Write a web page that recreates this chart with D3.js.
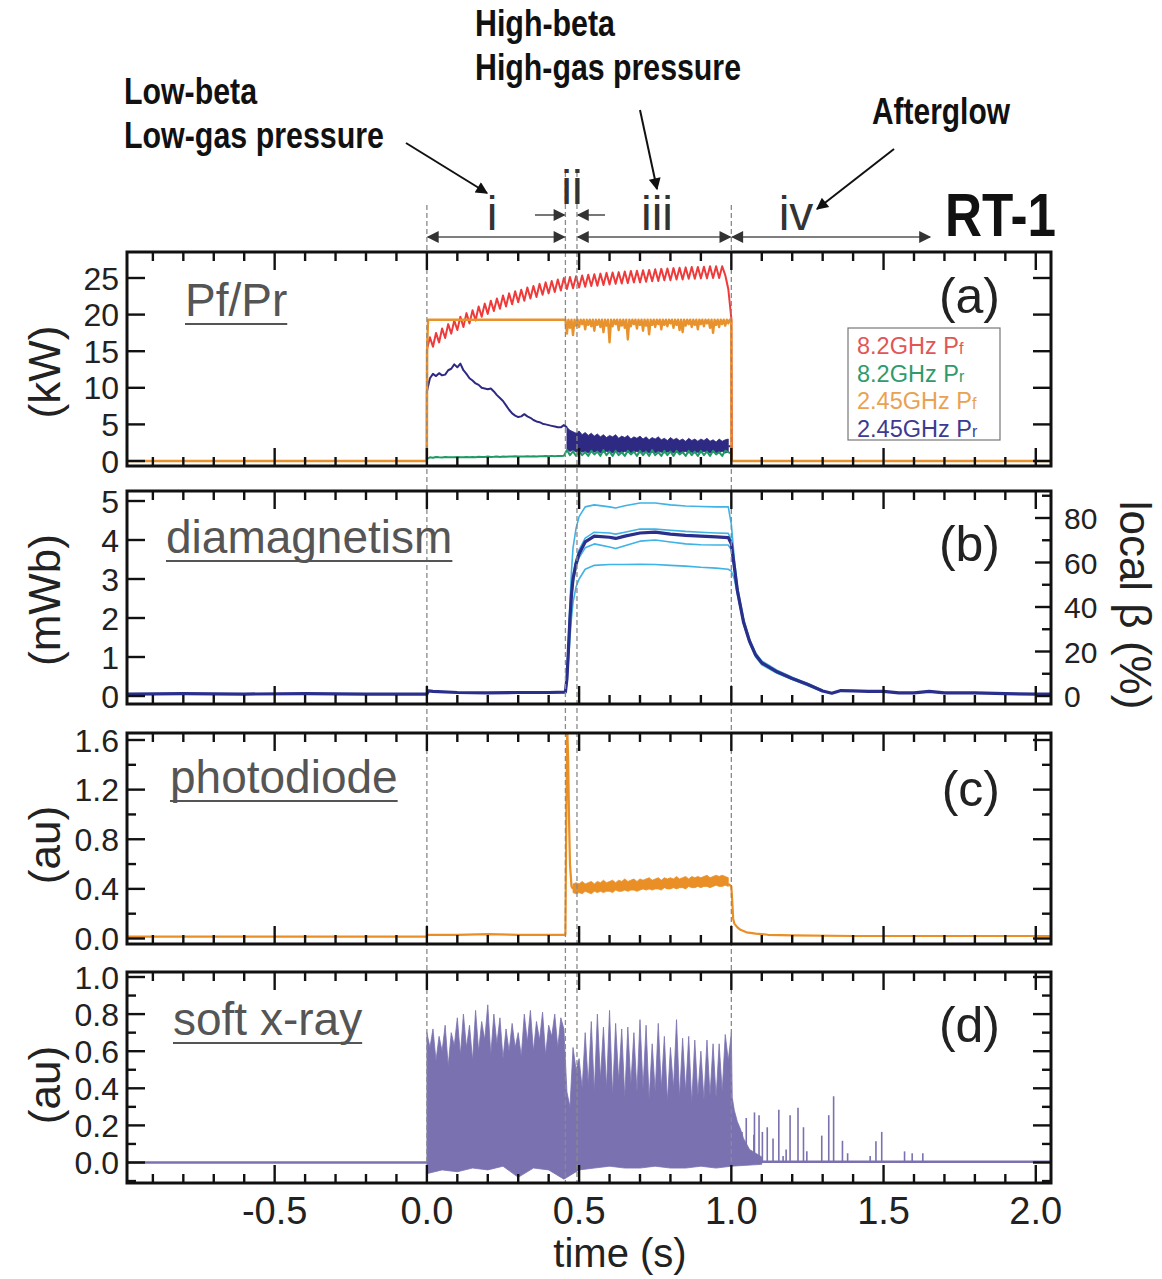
<!DOCTYPE html>
<html><head><meta charset="utf-8">
<script src="https://cdn.jsdelivr.net/npm/d3@7/dist/d3.min.js"></script>
<style>
body{margin:0;background:#fff}
svg{display:block}
text{font-family:"Liberation Sans",Arial,Helvetica,sans-serif}
</style>
</head><body>
<svg id="c" width="1162" height="1279"></svg>
<script>
// ---------------- DATA ----------------
const xMajorTicks = [-0.5, 0, 0.5, 1.0, 1.5, 2.0];
const xTickLabels = ["-0.5", "0.0", "0.5", "1.0", "1.5", "2.0"];
const phaseLines = [0, 0.455, 0.493, 1.0];

// panel (a) samples every 0.01 s from t = 0.00
const pf82 = [15.2,16.9,15.6,17.5,16.2,18.1,16.8,18.7,17.4,19.2,
  17.9,19.7,18.3,20.2,18.8,20.6,19.2,21.1,19.7,21.5,
  20.1,21.9,20.5,22.2,20.8,22.6,21.1,22.9,21.4,23.2,
  21.7,23.4,21.9,23.7,22.2,23.9,22.4,24.2,22.7,24.4,
  22.9,24.6,23.1,24.8,23.3,25.0,23.5,25.15,23.6,25.25,
  23.7,25.35,23.8,25.45,23.9,25.5,23.95,25.6,24.05,25.7,
  24.1,25.75,24.2,25.8,24.25,25.9,24.3,25.95,24.4,26.0,
  24.4,26.05,24.5,26.1,24.55,26.2,24.6,26.25,24.7,26.3,
  24.7,26.35,24.8,26.4,24.8,26.45,24.9,26.5,24.9,26.5,
  24.95,26.55,24.95,26.6,25.0,26.6,25.0,26.6,25.4,23.5,
  19.5];
const pr82 = [0.3,0.5,0.45,0.55,0.5,0.48,0.55,0.5,0.52,0.5,
  0.55,0.5,0.52,0.56,0.5,0.55,0.52,0.58,0.54,0.56,
  0.6,0.55,0.58,0.62,0.56,0.6,0.58,0.62,0.6,0.64,
  0.6,0.63,0.62,0.66,0.6,0.65,0.62,0.66,0.64,0.68,
  0.65,0.7,0.66,0.7,0.68,0.72,1.5,0.8,1.3,0.7,
  1.4,0.8,1.2,0.7,1.4,0.9,1.3,0.7,1.5,0.8,
  1.3,0.7,1.4,0.8,1.2,0.7,1.4,0.9,1.3,0.7,
  1.4,0.8,1.3,0.7,1.5,0.8,1.2,0.7,1.4,0.8,
  1.3,0.7,1.4,0.9,1.2,0.7,1.4,0.8,1.3,0.7,
  1.4,0.8,1.3,0.7,1.4,0.9,1.2,0.7,1.4,1.2,
  1.0];
const pf245Level = 19.3;
// dips of 2.45GHz Pf, t = 0.46 ... 0.99
const pf245Dips = [17.4,18.2,17.2,18.5,
  18.3,18.7,18.0,18.6,18.4,17.8,18.6,18.3,17.6,18.5,
  16.2,18.4,18.7,17.9,18.5,18.2,16.6,18.4,18.7,18.1,
  18.6,17.8,18.5,17.3,18.6,18.3,18.7,18.0,18.6,18.4,
  18.8,18.2,18.6,17.9,17.6,18.5,18.7,18.3,18.6,18.0,
  18.7,18.4,18.8,18.2,17.5,18.6,18.3,18.7,18.5,18.8];
// 2.45GHz Pr, t = 0.00 ... 0.45
const pr245Early = [9.5,11.3,11.9,11.6,12.0,11.7,11.8,12.4,12.6,13.2,
  12.8,13.3,12.4,11.9,11.3,11.0,10.6,10.4,10.0,9.9,
  9.8,9.9,9.5,9.0,8.6,8.2,7.6,7.0,6.5,6.2,
  6.0,6.1,6.4,6.1,5.9,5.6,5.4,5.3,5.1,5.0,
  4.9,4.8,4.7,4.6,4.6,4.9];
// 2.45GHz Pr band, t = 0.46 ... 0.99
const pr245Hi = [4.6,4.2,4.0,3.8,
  4.1,3.6,3.9,3.5,3.8,3.4,3.7,3.3,3.6,3.2,
  3.5,3.3,3.6,3.1,3.4,3.2,3.5,3.0,3.3,3.1,
  3.4,3.0,3.3,2.9,3.2,3.0,3.3,2.9,3.1,2.8,
  3.2,2.9,3.1,2.8,3.0,2.7,3.1,2.8,3.0,2.7,
  3.0,2.8,3.1,2.7,2.9,2.6,3.0,2.7,2.9,3.0];
const pr245Lo = [1.6,1.3,1.5,1.2,
  1.4,1.2,1.3,1.1,1.3,1.2,1.4,1.1,1.2,1.3,
  1.2,1.1,1.3,1.2,1.1,1.3,1.2,1.1,1.2,1.3,
  1.1,1.2,1.3,1.1,1.2,1.1,1.3,1.2,1.1,1.2,
  1.3,1.1,1.2,1.1,1.2,1.3,1.1,1.2,1.1,1.2,
  1.1,1.3,1.2,1.1,1.2,1.1,1.2,1.3,1.1,1.2];

// panel (b) diamagnetism (mWb)
const tDia = [-0.985,-0.8,-0.6,-0.4,-0.2,0,0.005,0.02,0.1,0.2,0.3,0.4,0.455,0.46,0.465,0.47,0.475,0.48,0.49,0.5,
  0.52,0.55,0.6,0.62,0.65,0.7,0.75,0.8,0.85,0.9,0.95,0.99,1.0,1.01,1.02,1.04,1.06,1.08,1.1,1.15,
  1.2,1.25,1.3,1.33,1.36,1.4,1.45,1.5,1.55,1.6,1.65,1.7,1.8,1.9,2.0,2.05];
const diaMain = [0.05,0.06,0.05,0.06,0.05,0.05,0.13,0.12,0.09,0.08,0.09,0.09,0.10,0.45,1.2,2.0,2.6,3.0,3.4,3.65,
  3.95,4.1,4.07,4.04,4.1,4.18,4.2,4.15,4.12,4.1,4.08,4.06,3.9,3.3,2.7,1.9,1.4,1.05,0.85,0.62,
  0.45,0.3,0.13,0.07,0.14,0.13,0.12,0.12,0.08,0.08,0.12,0.08,0.08,0.06,0.05,0.05];
const tDiaCh = [0.455,0.46,0.465,0.47,0.475,0.48,0.49,0.5,0.52,0.55,0.6,0.62,0.65,0.7,0.75,0.8,0.85,0.9,0.95,0.99,
  1.0,1.01,1.02,1.04,1.06,1.08,1.1,1.15,1.2,1.25,1.3];
const diaCh1 = [0.10,0.45,1.4,2.4,3.2,3.8,4.3,4.6,4.85,4.9,4.85,4.82,4.88,4.95,4.95,4.9,4.87,4.86,4.85,4.85,
  4.4,3.5,2.8,1.98,1.45,1.1,0.9,0.66,0.48,0.32,0.15];
const diaCh2 = [0.10,0.45,1.25,2.1,2.7,3.1,3.5,3.75,4.05,4.2,4.18,4.15,4.2,4.28,4.28,4.25,4.22,4.2,4.18,4.17,
  4.0,3.35,2.72,1.92,1.42,1.07,0.87,0.64,0.46,0.31,0.14];
const diaCh3 = [0.10,0.42,1.15,1.9,2.5,2.9,3.3,3.55,3.8,3.9,3.82,3.78,3.85,3.97,4.0,3.95,3.9,3.88,3.87,3.87,
  3.75,3.25,2.68,1.88,1.38,1.03,0.83,0.6,0.43,0.28,0.12];
const diaCh4 = [0.10,0.35,0.9,1.5,2.0,2.4,2.8,3.0,3.25,3.35,3.37,3.37,3.37,3.38,3.37,3.35,3.33,3.3,3.28,3.25,
  3.2,3.0,2.6,1.85,1.35,1.0,0.8,0.58,0.42,0.27,0.11];

// panel (c) photodiode (au)
const tPdA = [-0.985,0,0.002,0.1,0.2,0.3,0.4,0.455,0.458,0.461,0.464,0.467,0.47,0.475,0.48];
const pdA  = [0.015,0.015,0.03,0.03,0.035,0.03,0.03,0.03,1.0,1.7,1.45,0.95,0.6,0.42,0.4];
// band t = 0.48 ... 0.99
const pdHi = [0.44,0.45,
  0.44,0.46,0.44,0.45,0.46,0.44,0.46,0.45,0.47,0.45,
  0.46,0.47,0.45,0.47,0.46,0.48,0.46,0.47,0.48,0.46,
  0.48,0.47,0.48,0.49,0.47,0.48,0.49,0.47,0.49,0.48,
  0.49,0.48,0.50,0.48,0.49,0.50,0.48,0.50,0.49,0.50,
  0.49,0.50,0.51,0.49,0.50,0.51,0.50,0.51,0.50,0.49];
const pdLo = [0.37,0.36,
  0.37,0.36,0.38,0.37,0.36,0.38,0.37,0.38,0.37,0.38,
  0.38,0.37,0.39,0.38,0.38,0.39,0.38,0.39,0.39,0.38,
  0.39,0.40,0.39,0.40,0.39,0.40,0.40,0.39,0.41,0.40,
  0.40,0.41,0.40,0.41,0.41,0.40,0.42,0.41,0.41,0.42,
  0.41,0.42,0.42,0.41,0.42,0.43,0.42,0.42,0.43,0.42];
const tPdB = [0.99,1.0,1.003,1.006,1.01,1.02,1.03,1.05,1.08,1.12,1.2,1.4,1.7,2.05];
const pdB  = [0.44,0.42,0.3,0.16,0.12,0.09,0.07,0.05,0.04,0.03,0.025,0.02,0.02,0.02];

// panel (d) soft x-ray (au), upper envelope every 0.01 s from t = 0
const sxHi = [0.70,0.62,0.72,0.55,0.68,0.60,0.74,0.52,0.70,0.63,
  0.78,0.58,0.80,0.62,0.74,0.55,0.82,0.60,0.76,0.66,
  0.85,0.58,0.80,0.64,0.78,0.56,0.72,0.60,0.75,0.62,
  0.70,0.57,0.80,0.65,0.82,0.60,0.76,0.66,0.81,0.58,
  0.74,0.68,0.80,0.62,0.78,0.72,0.38,0.30,0.62,0.50,
  0.56,0.40,0.70,0.42,0.76,0.38,0.80,0.45,0.73,0.40,
  0.82,0.36,0.75,0.44,0.72,0.35,0.73,0.42,0.70,0.38,
  0.77,0.40,0.74,0.34,0.64,0.38,0.75,0.40,0.68,0.33,
  0.62,0.40,0.77,0.35,0.67,0.38,0.68,0.32,0.66,0.36,
  0.60,0.34,0.66,0.36,0.64,0.35,0.64,0.38,0.69,0.55,
  0.70];
// lower envelope every 0.05 s from t = 0
const sxLo = [-0.06,-0.04,-0.05,-0.03,-0.04,-0.02,-0.08,-0.03,-0.04,-0.09,-0.04,
  -0.03,-0.02,-0.03,-0.03,-0.02,-0.03,-0.03,-0.02,-0.03,-0.02];
const tSxDecay = [1.003,1.01,1.02,1.03,1.04,1.05,1.06,1.08,1.1];
const sxDecay  = [0.35,0.28,0.22,0.18,0.13,0.10,0.07,0.05,0.03];
const tSxSpike = [1.035,1.049,1.074,1.076,1.091,1.102,1.118,1.137,1.156,1.17,1.18,1.193,1.219,1.237,1.248,
  1.297,1.32,1.336,1.365,1.382,1.456,1.475,1.494,1.569,1.594,1.629];
const sxSpike  = [0.165,0.24,0.15,0.27,0.255,0.165,0.19,0.13,0.285,0.035,0.07,0.255,0.295,0.19,0.06,
  0.145,0.255,0.357,0.117,0.05,0.035,0.115,0.165,0.06,0.05,0.05];

const legendLabels = [["8.2GHz P","f"],["8.2GHz P","r"],["2.45GHz P","f"],["2.45GHz P","r"]];
const COL = {red:"#ee3a3a", green:"#1f9a62", orange:"#e8922e", navy:"#2e2a84",
  cyan:"#3fb2e6", dia:"#2b2f8c", pd:"#ea8f26", sx:"#7a72b0"};
const legendColors = ["#e25555","#2f9a6c","#e9a252","#3c3a92"];

// ---------------- DRAW ----------------
const svg = d3.select("#c");
const x = d3.scaleLinear().domain([-0.985, 2.05]).range([127, 1051]);
const P = {
  a:{t:252,b:466,y:d3.scaleLinear().domain([0,25]).range([461,278])},
  b:{t:491,b:704,y:d3.scaleLinear().domain([0,5]).range([696,501])},
  c:{t:733,b:944,y:d3.scaleLinear().domain([0,1.6]).range([938.5,740])},
  d:{t:972,b:1183,y:d3.scaleLinear().domain([0,1]).range([1162.5,977])}
};
const beta = d3.scaleLinear().domain([0,80]).range([696,518]);
const X0 = x.range()[0], X1 = x.range()[1];

const defs = svg.append("defs");
Object.entries(P).forEach(([k,p])=>{
  defs.append("clipPath").attr("id","clip"+k).append("rect")
    .attr("x",X0).attr("y",p.t).attr("width",X1-X0).attr("height",p.b-p.t);
});
function mk(id,color){
  defs.append("marker").attr("id",id).attr("viewBox","0 0 10 10").attr("refX",9).attr("refY",5)
    .attr("markerWidth",15).attr("markerHeight",12).attr("markerUnits","userSpaceOnUse")
    .attr("orient","auto-start-reverse")
    .append("path").attr("d","M0,0 L10,5 L0,10 z").attr("fill",color);
}
mk("ahg","#333"); mk("ahb","#111");

const samp = (t0, vals, step=0.01) => vals.map((v,i)=>[+(t0+i*step).toFixed(4), v]);
const zip = (ts, vs) => ts.map((t,i)=>[t, vs[i]]);

function plotLine(g, p, pts, color, w){
  g.append("path").attr("d", d3.line().x(d=>x(d[0])).y(d=>p.y(d[1]))(pts))
    .attr("fill","none").attr("stroke",color).attr("stroke-width",w).attr("stroke-linejoin","round");
}
function plotPoly(g, p, pts, color){
  g.append("path").attr("d", d3.line().x(d=>x(d[0])).y(d=>p.y(d[1]))(pts)+"Z")
    .attr("fill",color).attr("stroke",color).attr("stroke-width",0.8);
}

const gA = svg.append("g").attr("clip-path","url(#clipa)");
const gB = svg.append("g").attr("clip-path","url(#clipb)");
const gC = svg.append("g").attr("clip-path","url(#clipc)");
const gD = svg.append("g").attr("clip-path","url(#clipd)");

// ---- panel a ----
{
  const p = P.a;
  const navyBandPts = samp(0.46, pr245Hi).concat(samp(0.46, pr245Lo).reverse());
  plotPoly(gA, p, navyBandPts, COL.navy);
  plotLine(gA, p, [[-0.985,0],[0,0]].concat(samp(0, pr245Early), samp(0.46, pr245Hi).slice(0,1)), COL.navy, 2);
  plotLine(gA, p, [[0.99,2.0],[1.0,2.0],[1.0,0]], COL.navy, 2);
  plotLine(gA, p, [[-0.985,0],[0,0]].concat(samp(0, pf82), [[1.002,0],[2.05,0]]), COL.red, 2);
  plotLine(gA, p, [[-0.985,0],[0,0]].concat(samp(0, pr82), [[1.001,0],[2.05,0]]), COL.green, 2);
  const orPts = [[-0.985,0],[0,0],[0.001,16],[0.004,pf245Level],[0.455,pf245Level]];
  samp(0.46, pf245Dips).forEach(d=>{ orPts.push([d[0]-0.005, pf245Level]); orPts.push([d[0], d[1]]); });
  orPts.push([0.995,pf245Level],[1.0,pf245Level],[1.0,0],[2.05,0]);
  plotLine(gA, p, orPts, COL.orange, 2.4);
}
// ---- panel b ----
{
  const p = P.b;
  [diaCh1,diaCh2,diaCh3,diaCh4].forEach(v=> plotLine(gB, p, zip(tDiaCh, v), COL.cyan, 1.6));
  plotLine(gB, p, zip(tDia, diaMain), COL.dia, 3.2);
}
// ---- panel c ----
{
  const p = P.c;
  plotPoly(gC, p, samp(0.48, pdHi).concat(samp(0.48, pdLo).reverse()), COL.pd);
  plotLine(gC, p, zip(tPdA, pdA), COL.pd, 2.2);
  plotLine(gC, p, zip(tPdB, pdB), COL.pd, 2.2);
}
// ---- panel d ----
{
  const p = P.d;
  const hi = samp(0, sxHi).concat(zip(tSxDecay, sxDecay));
  const lo = samp(0, sxLo, 0.05).concat([[1.1,-0.01]]);
  plotPoly(gD, p, hi.concat(lo.reverse()), COL.sx);
  plotLine(gD, p, [[-0.985,0],[0,0]], COL.sx, 2.4);
  plotLine(gD, p, [[1.05,0.004],[2.05,0.004]], COL.sx, 2.4);
  zip(tSxSpike, sxSpike).forEach(d=>{
    gD.append("line").attr("x1",x(d[0])).attr("x2",x(d[0])).attr("y1",p.y(0)).attr("y2",p.y(d[1]))
      .attr("stroke",COL.sx).attr("stroke-width",1.6);
  });
}

// ---- phase dashed lines ----
phaseLines.forEach((t,i)=>{
  svg.append("line").attr("x1",x(t)).attr("x2",x(t)).attr("y1",(i==1||i==2)?172:205).attr("y2",1183)
    .attr("stroke","#8a8a8a").attr("stroke-width",1.3).attr("stroke-dasharray","5,3");
});

// ---- frames and ticks ----
const xMinor = d3.range(-9, 21).map(i=>i/10).filter(v=>!xMajorTicks.some(m=>Math.abs(m-v)<1e-6));
function frame(p){
  const g = svg.append("g").attr("stroke","#111").attr("stroke-width",2.4);
  xMajorTicks.forEach(t=>{
    g.append("line").attr("x1",x(t)).attr("x2",x(t)).attr("y1",p.b).attr("y2",p.b-18);
    g.append("line").attr("x1",x(t)).attr("x2",x(t)).attr("y1",p.t).attr("y2",p.t+18);
  });
  xMinor.forEach(t=>{
    g.append("line").attr("x1",x(t)).attr("x2",x(t)).attr("y1",p.b).attr("y2",p.b-9);
    g.append("line").attr("x1",x(t)).attr("x2",x(t)).attr("y1",p.t).attr("y2",p.t+9);
  });
  g.append("rect").attr("x",X0).attr("y",p.t).attr("width",X1-X0).attr("height",p.b-p.t)
    .attr("fill","none").attr("stroke-width",3);
  return g;
}
function yTicks(g, sc, vals, len, left=true, right=true){
  vals.forEach(v=>{
    if(left) g.append("line").attr("x1",X0).attr("x2",X0+len).attr("y1",sc(v)).attr("y2",sc(v));
    if(right) g.append("line").attr("x1",X1).attr("x2",X1-len).attr("y1",sc(v)).attr("y2",sc(v));
  });
}
function yLabels(sc, vals, labels){
  vals.forEach((v,i)=>{
    svg.append("text").attr("x",119).attr("y",sc(v)+11.5).attr("text-anchor","end")
      .attr("font-size",32).attr("fill","#222").text(labels[i]);
  });
}
const aTicks=[0,5,10,15,20,25];
const gfa = frame(P.a); yTicks(gfa, P.a.y, aTicks, 18);
yLabels(P.a.y, aTicks, ["0","5","10","15","20","25"]);

const bTicks=[0,1,2,3,4,5];
const gfb = frame(P.b); yTicks(gfb, P.b.y, bTicks, 18, true, false);
yTicks(gfb, beta, [0,20,40,60,80], 16, false, true);
yTicks(gfb, beta, [10,30,50,70,90], 9, false, true);
yLabels(P.b.y, bTicks, ["0","1","2","3","4","5"]);
[0,20,40,60,80].forEach(v=>{
  svg.append("text").attr("x",1064).attr("y",beta(v)+11).attr("font-size",30).attr("fill","#222").text(v);
});

const cMaj=[0,0.4,0.8,1.2,1.6], cMin=[0.2,0.6,1.0,1.4];
const gfc = frame(P.c); yTicks(gfc, P.c.y, cMaj, 18); yTicks(gfc, P.c.y, cMin, 9);
yLabels(P.c.y, cMaj, ["0.0","0.4","0.8","1.2","1.6"]);

const dMaj=[0,0.2,0.4,0.6,0.8,1.0], dMin=[-0.1,0.1,0.3,0.5,0.7,0.9];
const gfd = frame(P.d); yTicks(gfd, P.d.y, dMaj, 18); yTicks(gfd, P.d.y, dMin, 9);
yLabels(P.d.y, dMaj, ["0.0","0.2","0.4","0.6","0.8","1.0"]);

// x tick labels
xMajorTicks.forEach((t,i)=>{
  svg.append("text").attr("x",x(t)).attr("y",1224).attr("text-anchor","middle")
    .attr("font-size",38).attr("fill","#222").text(xTickLabels[i]);
});
svg.append("text").attr("x",620).attr("y",1267).attr("text-anchor","middle")
  .attr("font-size",40).attr("fill","#222").text("time (s)");

// y titles
function vtitle(cx, cy, txt, rot){
  svg.append("text").attr("transform",`translate(${cx},${cy}) rotate(${rot})`)
    .attr("text-anchor","middle").attr("font-size",44).attr("fill","#222").text(txt);
}
vtitle(60, 372, "(kW)", -90);
vtitle(60, 600, "(mWb)", -90);
vtitle(60, 845, "(au)", -90);
vtitle(60, 1085, "(au)", -90);
vtitle(1120, 605, "local β (%)", 90);

// underlined panel names
function uname(xp, yb, txt){
  const t = svg.append("text").attr("x",xp).attr("y",yb).attr("font-size",46).attr("fill","#555").text(txt);
  const w = t.node().getComputedTextLength();
  svg.append("line").attr("x1",xp).attr("x2",xp+w).attr("y1",yb+8).attr("y2",yb+8)
    .attr("stroke","#555").attr("stroke-width",2);
}
uname(185, 316, "Pf/Pr");
uname(166, 553, "diamagnetism");
uname(170, 793, "photodiode");
uname(173, 1035, "soft x-ray");

// panel letters
[["(a)",313],["(b)",561],["(c)",806],["(d)",1042]].forEach(d=>{
  svg.append("text").attr("x",1000).attr("y",d[1]).attr("text-anchor","end")
    .attr("font-size",50).attr("fill","#222").text(d[0]);
});

// legend
svg.append("rect").attr("x",848).attr("y",328).attr("width",152).attr("height",112)
  .attr("fill","#fff").attr("stroke","#777").attr("stroke-width",1.2);
legendLabels.forEach((l,i)=>{
  const t = svg.append("text").attr("x",857).attr("y",354+i*27.7).attr("font-size",23.5).attr("fill",legendColors[i]);
  t.append("tspan").text(l[0]);
  t.append("tspan").attr("font-size",16).text(l[1]);
});

// phase annotations
const roman = [["i",492,230],["ii",572,204],["iii",657,230],["iv",796,230]];
roman.forEach(r=>{
  svg.append("text").attr("x",r[1]).attr("y",r[2]).attr("text-anchor","middle")
    .attr("font-size",48).attr("fill","#333").text(r[0]);
});
function arrow(x1,y1,x2,y2,col,w,both,mid){
  const l = svg.append("line").attr("x1",x1).attr("y1",y1).attr("x2",x2).attr("y2",y2)
    .attr("stroke",col).attr("stroke-width",w).attr("marker-end",`url(#${mid})`);
  if(both) l.attr("marker-start",`url(#${mid})`);
}
arrow(x(0)+1, 237, x(0.455)-1, 237, "#555", 1.6, true, "ahg");
arrow(x(0.493)+1, 237, x(1.0)-1, 237, "#555", 1.6, true, "ahg");
arrow(x(1.0)+1, 237, 930, 237, "#555", 1.6, true, "ahg");
arrow(535, 215, x(0.455)-1, 215, "#555", 1.6, false, "ahg");
arrow(605, 215, x(0.493)+1, 215, "#555", 1.6, false, "ahg");

// text annotations
function btxt(xp, yb, txt, len, fs){
  svg.append("text").attr("x",xp).attr("y",yb).attr("font-size",fs).attr("font-weight","bold")
    .attr("fill","#111").attr("textLength",len).attr("lengthAdjust","spacingAndGlyphs").text(txt);
}
btxt(124, 104, "Low-beta", 133, 36);
btxt(124, 148, "Low-gas pressure", 260, 36);
btxt(475, 36, "High-beta", 140, 36);
btxt(475, 80, "High-gas pressure", 266, 36);
btxt(872, 124, "Afterglow", 138, 36);
btxt(945, 236, "RT-1", 111, 62);
arrow(406, 143, 487, 193, "#111", 2, false, "ahb");
arrow(640, 110, 657, 189, "#111", 2, false, "ahb");
arrow(894, 149, 817, 209, "#111", 2, false, "ahb");
</script>
</body></html>
